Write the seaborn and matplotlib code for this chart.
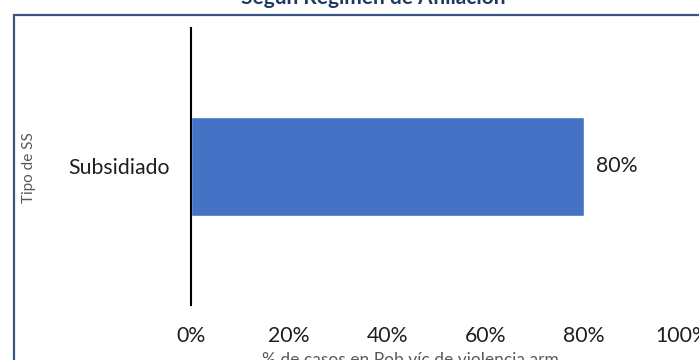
import matplotlib
matplotlib.use("Agg")
import matplotlib.pyplot as plt
from matplotlib.patches import Rectangle
from matplotlib.ticker import FuncFormatter
import seaborn as sns
import pandas as pd

# Data
categories = ["Subsidiado"]
percentages = [80]
x_ticks = [0, 20, 40, 60, 80, 100]

title_text = "Según Régimen de Afiliación"
x_label = "% de casos en Pob víc de violencia arm"
y_label = "Tipo de SS"

sns.set_theme(style="white")
plt.rcParams["font.family"] = ["Lato", "DejaVu Sans"]

W, H = 699, 360
fig = plt.figure(figsize=(W / 100, H / 100), dpi=100)
ax = fig.add_axes([191 / W, 1 - 305 / H, 491 / W, 277 / H])

df = pd.DataFrame({"tipo": categories, "pct": percentages})
sns.barplot(data=df, x="pct", y="tipo", orient="h", color="#4472C4",
            saturation=1, width=0.354, ax=ax)

ax.set_xlim(0, 100)
ax.set_xticks(x_ticks)
ax.xaxis.set_major_formatter(FuncFormatter(lambda v, p: f"{v:.0f}%"))
ax.set_xlabel("")
ax.set_ylabel("")

for side in ["top", "right", "bottom"]:
    ax.spines[side].set_visible(False)
ax.spines["left"].set_color("black")
ax.spines["left"].set_linewidth(1.5)

label_size = 15.3
ax.tick_params(axis="x", length=0, pad=15, labelsize=label_size, labelcolor="#1F1F1F")
ax.tick_params(axis="y", length=0, pad=15, labelsize=label_size, labelcolor="#1F1F1F")
for lbl in ax.get_xticklabels():
    lbl.set_clip_on(False)

# Value labels at bar ends
ax.bar_label(ax.containers[0], labels=[f"{v}%" for v in percentages],
             padding=9, fontsize=label_size, color="#1F1F1F")

# Chart-area border
fig.patches.append(Rectangle((14 / W, -0.2), 1.5, (1 - 15.5 / H) + 0.2,
                             transform=fig.transFigure, fill=False,
                             edgecolor="#3A5585", linewidth=1.6, zorder=0))

# Titles
fig.text(373.5 / W, 1 - 4 / H, title_text, ha="center", va="baseline",
         fontsize=15, fontweight="bold", color="#1F3864")
fig.text(410 / W, 1 - 352 / H, x_label, ha="center", va="top",
         fontsize=12.5, color="#595959")
fig.text(29.5 / W, 1 - 167.5 / H, y_label, ha="center", va="center",
         rotation=90, fontsize=11, color="#595959")

fig.savefig("out.png", dpi=100)
